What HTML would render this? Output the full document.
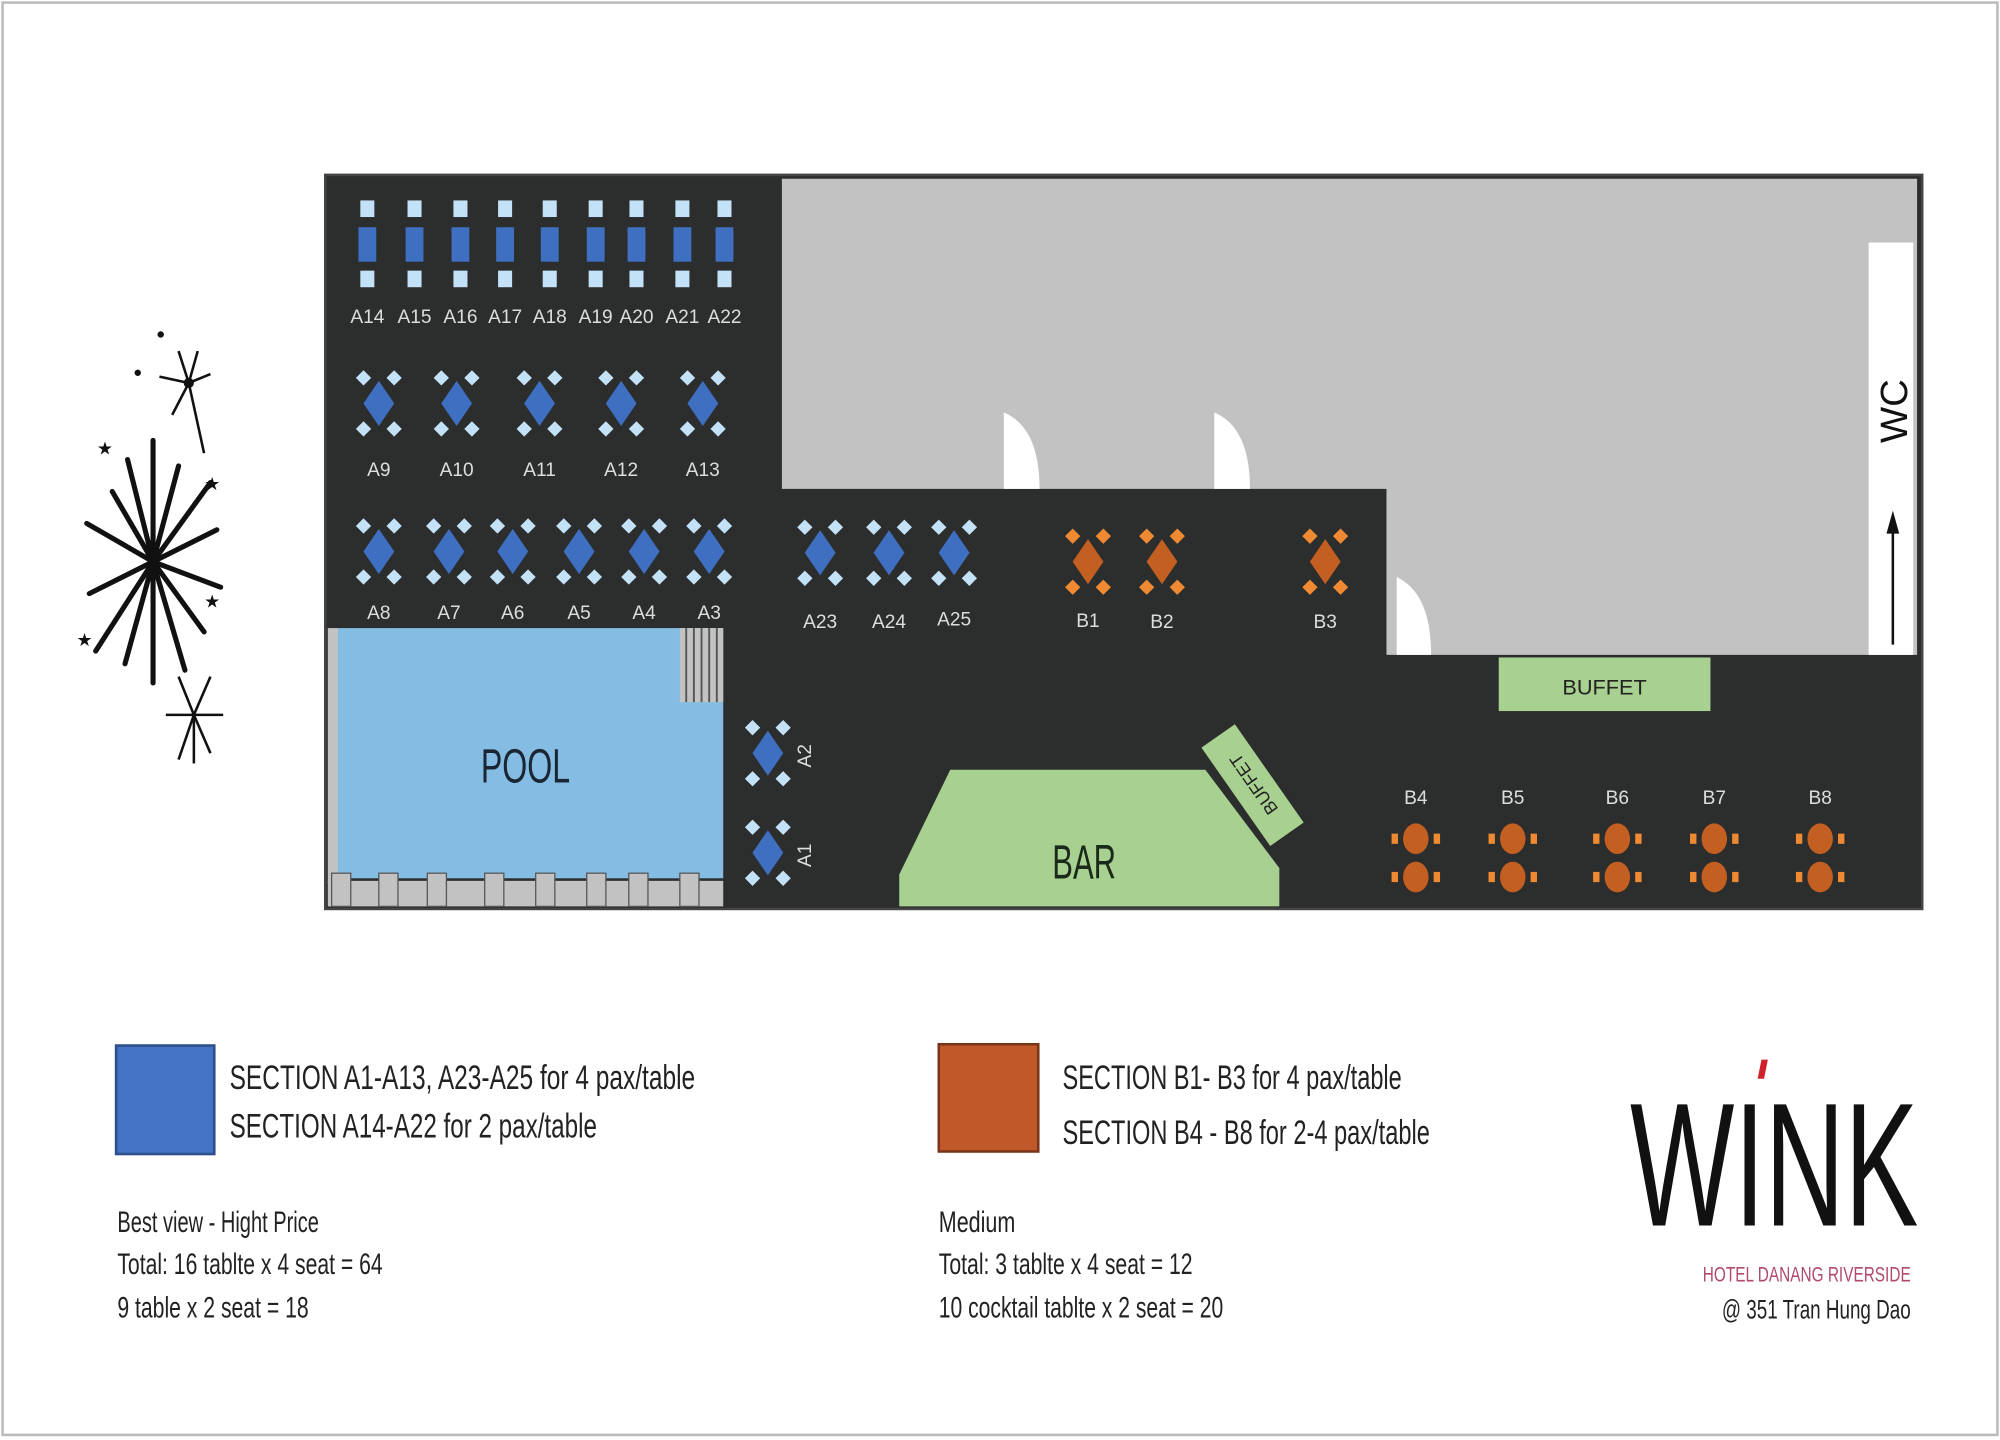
<!DOCTYPE html>
<html><head><meta charset="utf-8"><style>
html,body{margin:0;padding:0;background:#fff;width:2000px;height:1440px;overflow:hidden}
svg{display:block}
text{font-family:"Liberation Sans Narrow","Liberation Sans",sans-serif}
</style></head><body>
<svg width="2000" height="1440" viewBox="0 0 1568 1128" preserveAspectRatio="none" xmlns="http://www.w3.org/2000/svg">
<defs>
<g id="t4">
 <polygon points="-12,-26 -6,-20 -12,-14 -18,-20" fill="#c4e2f7"/>
 <polygon points="12,-26 18,-20 12,-14 6,-20" fill="#c4e2f7"/>
 <polygon points="-12,14 -6,20 -12,26 -18,20" fill="#c4e2f7"/>
 <polygon points="12,14 18,20 12,26 6,20" fill="#c4e2f7"/>
 <polygon points="0,-19 13,0 0,19 -13,0" fill="#3f6fc0" stroke="#2c2d2d" stroke-width="1.5"/>
</g>
<g id="o4">
 <polygon points="-12,-26 -6,-20 -12,-14 -18,-20" fill="#f08a32"/>
 <polygon points="12,-26 18,-20 12,-14 6,-20" fill="#f08a32"/>
 <polygon points="-12,14 -6,20 -12,26 -18,20" fill="#f08a32"/>
 <polygon points="12,14 18,20 12,26 6,20" fill="#f08a32"/>
 <polygon points="0,-19 13,0 0,19 -13,0" fill="#c45f22" stroke="#2c2d2d" stroke-width="1.5"/>
</g>
<g id="t2">
 <rect x="-5.5" y="-35" width="11" height="13" fill="#c4e2f7"/>
 <rect x="-7" y="-14" width="14" height="27" fill="#3f6fc0"/>
 <rect x="-5.5" y="20" width="11" height="13" fill="#c4e2f7"/>
</g>
<g id="ck">
 <ellipse cx="0" cy="-15" rx="10" ry="12" fill="#c45f22"/>
 <ellipse cx="0" cy="15" rx="10" ry="12" fill="#c45f22"/>
 <rect x="-19" y="-19" width="5" height="8" fill="#f08a32"/>
 <rect x="14" y="-19" width="5" height="8" fill="#f08a32"/>
 <rect x="-19" y="11" width="5" height="8" fill="#f08a32"/>
 <rect x="14" y="11" width="5" height="8" fill="#f08a32"/>
</g>
</defs>
<rect x="2" y="2" width="1564" height="1122" fill="none" stroke="#bbb" stroke-width="2"/>

<rect x="255" y="137" width="1252" height="575" fill="#2c2d2d" stroke="#444" stroke-width="2"/>
<polygon points="613,140 1503,140 1503,513 1087,513 1087,383 613,383" fill="#c2c2c2"/>
<rect x="1465" y="190" width="35" height="323" fill="#fff"/>
<path d="M787,383 L787,323 Q815,335 815,383 Z" fill="#fff"/>
<path d="M952,383 L952,323 Q980,335 980,383 Z" fill="#fff"/>
<path d="M1095,513 L1095,452 Q1122,465 1122,513 Z" fill="#fff"/>
<text x="0" y="0" transform="translate(1495,322) rotate(-90)" font-size="30" text-anchor="middle" fill="#111">WC</text>
<line x1="1484" y1="505" x2="1484" y2="412" stroke="#111" stroke-width="2"/>
<polygon points="1484,400 1479,418 1489,418" fill="#111"/>

<g fill="#ddd" font-size="15" text-anchor="middle">
<use href="#t2" x="288" y="192"/><use href="#t2" x="325" y="192"/><use href="#t2" x="361" y="192"/><use href="#t2" x="396" y="192"/><use href="#t2" x="431" y="192"/><use href="#t2" x="467" y="192"/><use href="#t2" x="499" y="192"/><use href="#t2" x="535" y="192"/><use href="#t2" x="568" y="192"/>
<text x="288" y="253">A14</text><text x="325" y="253">A15</text><text x="361" y="253">A16</text><text x="396" y="253">A17</text><text x="431" y="253">A18</text><text x="467" y="253">A19</text><text x="499" y="253">A20</text><text x="535" y="253">A21</text><text x="568" y="253">A22</text>
<use href="#t4" x="297" y="316"/><use href="#t4" x="358" y="316"/><use href="#t4" x="423" y="316"/><use href="#t4" x="487" y="316"/><use href="#t4" x="551" y="316"/>
<text x="297" y="373">A9</text><text x="358" y="373">A10</text><text x="423" y="373">A11</text><text x="487" y="373">A12</text><text x="551" y="373">A13</text>
<use href="#t4" x="297" y="432"/><use href="#t4" x="352" y="432"/><use href="#t4" x="402" y="432"/><use href="#t4" x="454" y="432"/><use href="#t4" x="505" y="432"/><use href="#t4" x="556" y="432"/>
<text x="297" y="485">A8</text><text x="352" y="485">A7</text><text x="402" y="485">A6</text><text x="454" y="485">A5</text><text x="505" y="485">A4</text><text x="556" y="485">A3</text>
<use href="#t4" x="643" y="433"/><use href="#t4" x="697" y="433"/><use href="#t4" x="748" y="433"/>
<text x="643" y="492">A23</text><text x="697" y="492">A24</text><text x="748" y="490">A25</text>
<use href="#o4" x="853" y="440"/><use href="#o4" x="911" y="440"/><use href="#o4" x="1039" y="440"/>
<text x="853" y="491">B1</text><text x="911" y="492">B2</text><text x="1039" y="492">B3</text>
<use href="#t4" x="602" y="590"/><use href="#t4" x="602" y="668"/>
<text transform="translate(636,592) rotate(-90)">A2</text>
<text transform="translate(636,670) rotate(-90)">A1</text>
<use href="#ck" x="1110" y="672"/><use href="#ck" x="1186" y="672"/><use href="#ck" x="1268" y="672"/><use href="#ck" x="1344" y="672"/><use href="#ck" x="1427" y="672"/>
<text x="1110" y="630">B4</text><text x="1186" y="630">B5</text><text x="1268" y="630">B6</text><text x="1344" y="630">B7</text><text x="1427" y="630">B8</text>
</g>

<rect x="257" y="492" width="8" height="200" fill="#c2c2c2"/>
<rect x="265" y="492" width="302" height="196" fill="#85bce3"/>
<rect x="533" y="492" width="34" height="58" fill="#c2c2c2"/>
<g stroke="#555" stroke-width="1.5"><line x1="538" y1="492" x2="538" y2="550"/><line x1="544" y1="492" x2="544" y2="550"/><line x1="550" y1="492" x2="550" y2="550"/><line x1="556" y1="492" x2="556" y2="550"/><line x1="562" y1="492" x2="562" y2="550"/></g>
<rect x="257" y="690" width="310" height="20" fill="#c2c2c2"/>
<g fill="#c2c2c2" stroke="#555" stroke-width="1"><rect x="260" y="684" width="15" height="26"/><rect x="297" y="684" width="15" height="26"/><rect x="335" y="684" width="15" height="26"/><rect x="380" y="684" width="15" height="26"/><rect x="420" y="684" width="15" height="26"/><rect x="460" y="684" width="15" height="26"/><rect x="493" y="684" width="15" height="26"/><rect x="533" y="684" width="15" height="26"/></g>
<text x="412" y="613" font-size="38" text-anchor="middle" fill="#1a2733" textLength="70" lengthAdjust="spacingAndGlyphs">POOL</text>

<polygon points="705,685 745,603 945,603 1003,680 1003,710 705,710" fill="#a8d090"/>
<g transform="translate(982,615) rotate(55)"><rect x="-48" y="-17" width="96" height="34" fill="#a8d090" stroke="#2c2d2d" stroke-width="2"/><text x="0" y="6" font-size="14" text-anchor="middle" fill="#222" transform="rotate(180)">BUFFET</text></g>
<text x="850" y="688" font-size="38" text-anchor="middle" fill="#1a2a1a" textLength="50" lengthAdjust="spacingAndGlyphs">BAR</text>
<rect x="1175" y="515" width="166" height="42" fill="#a8d090"/>
<text x="1258" y="544" font-size="17" text-anchor="middle" fill="#222">BUFFET</text>

<g stroke="#111" stroke-width="4" stroke-linecap="round">
<line x1="120" y1="440" x2="120" y2="345"/><line x1="120" y1="440" x2="120" y2="535"/>
<line x1="120" y1="440" x2="165" y2="378"/><line x1="120" y1="440" x2="75" y2="510"/>
<line x1="120" y1="440" x2="170" y2="415"/><line x1="120" y1="440" x2="70" y2="465"/>
<line x1="120" y1="440" x2="160" y2="495"/><line x1="120" y1="440" x2="88" y2="385"/>
<line x1="120" y1="440" x2="100" y2="360"/><line x1="120" y1="440" x2="145" y2="525"/>
<line x1="120" y1="440" x2="68" y2="410"/><line x1="120" y1="440" x2="173" y2="460"/>
<line x1="120" y1="440" x2="98" y2="520"/><line x1="120" y1="440" x2="140" y2="365"/>
</g>
<g stroke="#111" stroke-width="2"><line x1="148" y1="300" x2="140" y2="275"/><line x1="148" y1="300" x2="155" y2="275"/><line x1="148" y1="300" x2="125" y2="295"/><line x1="148" y1="300" x2="165" y2="293"/><line x1="148" y1="300" x2="160" y2="355"/><line x1="148" y1="300" x2="135" y2="325"/>
<line x1="152" y1="560" x2="140" y2="530"/><line x1="152" y1="560" x2="165" y2="530"/><line x1="152" y1="560" x2="130" y2="560"/><line x1="152" y1="560" x2="175" y2="560"/><line x1="152" y1="560" x2="140" y2="595"/><line x1="152" y1="560" x2="165" y2="590"/><line x1="152" y1="560" x2="152" y2="598"/></g>
<circle cx="148" cy="300" r="4" fill="#111"/><circle cx="108" cy="292" r="2.5" fill="#111"/><circle cx="126" cy="262" r="2.5" fill="#111"/>
<g font-size="14" fill="#111"><text x="76" y="356">★</text><text x="160" y="384">★</text><text x="160" y="476">★</text><text x="60" y="506">★</text></g>

<rect x="91" y="819" width="77" height="85" fill="#4472c4" stroke="#2d4f8a" stroke-width="2"/>
<rect x="736" y="818" width="78" height="84" fill="#c0582a" stroke="#7a3418" stroke-width="2"/>
<g font-size="27" fill="#222">
<text x="180" y="853" textLength="365" lengthAdjust="spacingAndGlyphs">SECTION A1-A13, A23-A25 for 4 pax/table</text>
<text x="180" y="891" textLength="288" lengthAdjust="spacingAndGlyphs">SECTION A14-A22 for 2 pax/table</text>
<text x="833" y="853" textLength="266" lengthAdjust="spacingAndGlyphs">SECTION B1- B3 for 4 pax/table</text>
<text x="833" y="896" textLength="288" lengthAdjust="spacingAndGlyphs">SECTION B4 - B8 for 2-4 pax/table</text>
</g>
<g font-size="23" fill="#222">
<text x="92" y="965" textLength="158" lengthAdjust="spacingAndGlyphs">Best view - Hight Price</text>
<text x="92" y="998" textLength="208" lengthAdjust="spacingAndGlyphs">Total: 16 tablte x 4 seat = 64</text>
<text x="92" y="1032" textLength="150" lengthAdjust="spacingAndGlyphs">9 table x 2 seat = 18</text>
<text x="736" y="965" textLength="60" lengthAdjust="spacingAndGlyphs">Medium</text>
<text x="736" y="998" textLength="199" lengthAdjust="spacingAndGlyphs">Total: 3 tablte x 4 seat = 12</text>
<text x="736" y="1032" textLength="223" lengthAdjust="spacingAndGlyphs">10 cocktail tablte x 2 seat = 20</text>
</g>
<polygon points="1378,845 1381,830 1386,830 1383,845" fill="#d0202a"/>
<text x="1278" y="960" font-size="138" fill="#111" textLength="226" lengthAdjust="spacingAndGlyphs">WINK</text>
<text x="1335" y="1004" font-size="17" fill="#b04a6a" textLength="163" lengthAdjust="spacingAndGlyphs">HOTEL DANANG RIVERSIDE</text>
<text x="1350" y="1033" font-size="21" fill="#222" textLength="148" lengthAdjust="spacingAndGlyphs">@ 351 Tran Hung Dao</text>
</svg>
</body></html>
